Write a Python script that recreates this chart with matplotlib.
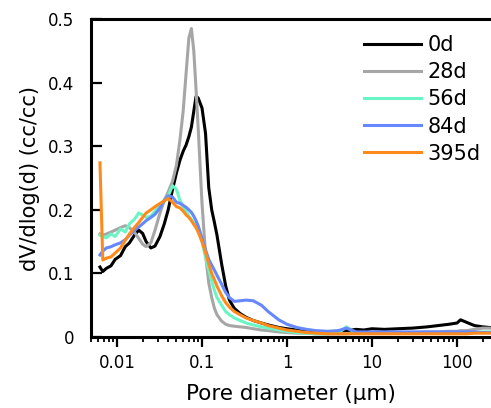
import matplotlib
matplotlib.use("Agg")
import matplotlib.pyplot as plt

# pore diameter (um), shared by all curves
d = [0.0063, 0.0068, 0.0075, 0.0085, 0.0095, 0.011, 0.0125, 0.014, 0.016, 0.018,
     0.02, 0.022, 0.025, 0.028, 0.032, 0.036, 0.04, 0.045, 0.05, 0.055,
     0.06, 0.065, 0.07, 0.075, 0.08, 0.085, 0.09, 0.1, 0.11, 0.12,
     0.13, 0.14, 0.15, 0.17, 0.19, 0.21, 0.24, 0.28, 0.33, 0.4,
     0.5, 0.6, 0.8, 1.0, 1.3, 1.7, 2.2, 3, 4, 5,
     6.5, 8, 10, 14, 20, 30, 45, 60, 80, 100,
     110, 130, 160, 200, 240]

d0 = [0.110, 0.103, 0.108, 0.112, 0.122, 0.128, 0.142, 0.148, 0.16, 0.168,
      0.163, 0.15, 0.14, 0.143, 0.158, 0.178, 0.2, 0.232, 0.258, 0.278,
      0.292, 0.302, 0.315, 0.33, 0.355, 0.378, 0.376, 0.36, 0.32, 0.235,
      0.2, 0.18, 0.16, 0.115, 0.08, 0.058, 0.045, 0.037, 0.031, 0.026,
      0.022, 0.019, 0.015, 0.013, 0.011, 0.009, 0.008, 0.008, 0.009, 0.01,
      0.012, 0.011, 0.013, 0.012, 0.013, 0.014, 0.016, 0.018, 0.02, 0.022,
      0.027, 0.023, 0.018, 0.016, 0.015]

d28 = [0.162, 0.16, 0.162, 0.165, 0.168, 0.172, 0.175, 0.172, 0.165, 0.155,
       0.146, 0.142, 0.148, 0.168, 0.195, 0.215, 0.228, 0.245, 0.27, 0.31,
       0.355, 0.415, 0.47, 0.485, 0.45, 0.39, 0.33, 0.21, 0.13, 0.085,
       0.062, 0.045, 0.035, 0.025, 0.02, 0.018, 0.017, 0.016, 0.015, 0.013,
       0.011, 0.01, 0.008, 0.007, 0.006, 0.006, 0.005, 0.005, 0.005, 0.005,
       0.006, 0.006, 0.006, 0.007, 0.007, 0.007, 0.008, 0.008, 0.009, 0.009,
       0.01, 0.01, 0.012, 0.014, 0.014]

d56 = [0.16, 0.158, 0.156, 0.162, 0.158, 0.17, 0.165, 0.178, 0.185, 0.195,
       0.192, 0.188, 0.19, 0.198, 0.208, 0.215, 0.222, 0.238, 0.232, 0.215,
       0.205, 0.198, 0.19, 0.185, 0.18, 0.176, 0.172, 0.15, 0.125, 0.105,
       0.088, 0.073, 0.062, 0.05, 0.04, 0.035, 0.03, 0.026, 0.022, 0.019,
       0.016, 0.014, 0.011, 0.009, 0.007, 0.006, 0.005, 0.005, 0.006, 0.016,
       0.006, 0.006, 0.006, 0.006, 0.006, 0.006, 0.006, 0.006, 0.006, 0.006,
       0.006, 0.007, 0.007, 0.008, 0.008]

d84 = [0.129, 0.135, 0.14, 0.142, 0.145, 0.148, 0.153, 0.16, 0.168, 0.173,
       0.178, 0.183, 0.188, 0.193, 0.203, 0.215, 0.222, 0.22, 0.212, 0.21,
       0.207, 0.204, 0.2, 0.196, 0.19, 0.183, 0.175, 0.155, 0.137, 0.122,
       0.113, 0.105, 0.097, 0.083, 0.07, 0.062, 0.056, 0.057, 0.058, 0.057,
       0.05, 0.04, 0.027, 0.02, 0.015, 0.012, 0.01, 0.009, 0.01, 0.014,
       0.008, 0.008, 0.008, 0.008, 0.008, 0.008, 0.008, 0.008, 0.008, 0.008,
       0.008, 0.008, 0.008, 0.007, 0.007]

d395 = [0.274, 0.121, 0.124, 0.126, 0.132, 0.14, 0.152, 0.162, 0.172, 0.18,
        0.188, 0.195, 0.2, 0.205, 0.21, 0.214, 0.218, 0.212, 0.205, 0.203,
        0.198, 0.192, 0.188, 0.183, 0.177, 0.172, 0.165, 0.15, 0.133, 0.115,
        0.1, 0.09, 0.08, 0.065, 0.054, 0.047, 0.04, 0.035, 0.03, 0.026,
        0.022, 0.018, 0.014, 0.011, 0.009, 0.007, 0.006, 0.005, 0.005, 0.005,
        0.005, 0.005, 0.005, 0.005, 0.005, 0.005, 0.005, 0.005, 0.005, 0.005,
        0.005, 0.005, 0.006, 0.006, 0.006]

labels = ["0d", "28d", "56d", "84d", "395d"]
colors = ["#000000", "#a6a6a6", "#6af5c4", "#6688ff", "#ff8a1c"]

fig = plt.figure(figsize=(4.91, 4.08), dpi=100)
ax = fig.add_axes([0.1853, 0.174, 0.8147, 0.7794])

for ys, lab, c in zip([d0, d28, d56, d84, d395], labels, colors):
    ax.plot(d, ys, color=c, lw=2.2, label=lab)

ax.set_xscale("log")
ax.set_xlim(0.00494, 251)
ax.set_ylim(0, 0.5)
ax.set_yticks([0, 0.1, 0.2, 0.3, 0.4, 0.5])
ax.set_yticklabels(["0", "0.1", "0.2", "0.3", "0.4", "0.5"])
ax.set_xticks([0.01, 0.1, 1, 10, 100])
ax.set_xticklabels(["0.01", "0.1", "1", "10", "100"])

for s in ["left", "bottom", "top"]:
    ax.spines[s].set_linewidth(2.2)
ax.spines["right"].set_visible(False)

ax.tick_params(axis="y", direction="in", length=8, width=1.6, labelsize=12, pad=12)
ax.tick_params(axis="x", which="major", direction="out", length=7, width=1.6, labelsize=12, pad=5)
ax.tick_params(axis="x", which="minor", direction="out", length=3.5, width=1.3)

ax.set_xlabel("Pore diameter (\u03bcm)", fontsize=15.5, labelpad=9)
ax.set_ylabel("dV/dlog(d) (cc/cc)", fontsize=15, labelpad=6)

ax.legend(loc="upper left", bbox_to_anchor=(0.662, 0.975), frameon=False,
          fontsize=15, handlelength=2.75, handletextpad=0.3, labelspacing=0.34,
          borderaxespad=0)

fig.savefig("out.png", dpi=100)
